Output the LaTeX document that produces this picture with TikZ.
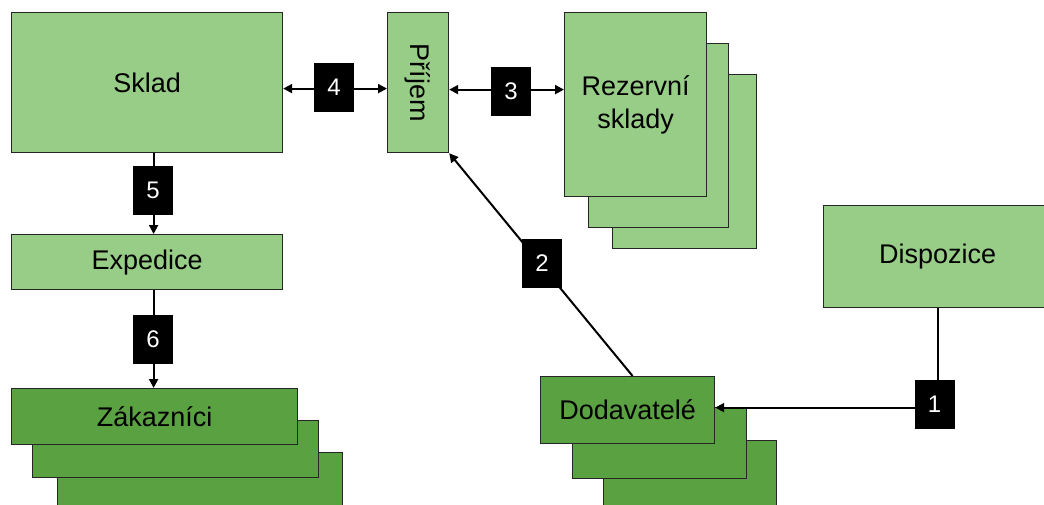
\documentclass[tikz,border=0pt]{standalone}
\usepackage{fontspec}
\setmainfont{Liberation Sans}
\usetikzlibrary{arrows.meta}
\definecolor{lg}{HTML}{98CD87}
\definecolor{dg}{HTML}{5AA142}
\begin{document}
\begin{tikzpicture}[x=1pt,y=-1pt,
  box/.style={draw=black!85, line width=1.2pt, fill=lg, anchor=north west, inner sep=0pt,
              font=\fontsize{27}{33}\selectfont, align=center},
  dbox/.style={box, fill=dg},
  lbl/.style={fill=black, text=white, minimum width=40pt, minimum height=49pt, inner sep=0pt,
              font=\fontsize{24}{28}\selectfont},
  conn/.style={line width=2pt, draw=black},
  tipend/.style={-{Triangle[length=9pt,width=9pt]}},
  tipboth/.style={{Triangle[length=9pt,width=9pt]}-{Triangle[length=9pt,width=9pt]}}
]
\useasboundingbox (0,0) rectangle (1044,504);
\clip (0,0) rectangle (1044,504);

% boxes
\node[box, minimum width=271pt, minimum height=140pt] (sklad) at (11,12) {Sklad};
\node[box, minimum width=61pt, minimum height=140pt] (prijem) at (387,12) {};
\node[rotate=-90, font=\fontsize{27}{33}\selectfont, inner sep=0pt] (prijemtxt) at (prijem.center) {Příjem};

\node[box, minimum width=144pt, minimum height=174pt] (rez3) at (612,74) {};
\node[box, minimum width=140pt, minimum height=184pt] (rez2) at (588,43) {};
\node[box, minimum width=142pt, minimum height=184pt] (rez1) at (564,12) {Rezervní\\sklady};

\node[box, minimum width=228pt, minimum height=102pt] (disp) at (823,205) {Dispozice};
\node[box, minimum width=271pt, minimum height=55pt] (exp) at (11,234) {Expedice};

\node[dbox, minimum width=285pt, minimum height=62pt] (zak3) at (57,452) {};
\node[dbox, minimum width=286pt, minimum height=57pt] (zak2) at (32,420) {};
\node[dbox, minimum width=286pt, minimum height=56pt] (zak1) at (11,388) {Zákazníci};

\node[dbox, minimum width=173pt, minimum height=72pt] (dod3) at (603,440) {};
\node[dbox, minimum width=174pt, minimum height=71pt] (dod2) at (572,407) {};
\node[dbox, minimum width=174pt, minimum height=67pt] (dod1) at (540,376) {Dodavatelé};

% connectors
\draw[conn, tipboth] ([yshift=-6pt]sklad.east) -- ([yshift=-6pt]prijem.west);
\coordinate (a3) at ([yshift=-7pt]prijem.east);
\draw[conn, tipboth] (a3) -- (a3 -| rez1.west);
\coordinate (a5) at ([xshift=6.5pt]sklad.south);
\draw[conn, tipend] (a5) -- (a5 |- exp.north);
\coordinate (a6) at ([xshift=6.5pt]exp.south);
\draw[conn, tipend] (a6) -- (a6 |- zak1.north);
\coordinate (a1) at ([yshift=2.5pt]dod1.east);
\draw[conn, tipend] (disp.south) |- (a1);
\draw[conn, tipend] ([xshift=5pt]dod1.north) -- (prijem.south east);

% labels
\node[lbl] (l4) at (334,87.5) {4};
\node[lbl] (l3) at (511,91.5) {3};
\node[lbl] (l5) at (153,190.5) {5};
\node[lbl] (l6) at (153,339.5) {6};
\node[lbl] (l2) at (542,263) {2};
\node[lbl] (l1) at (934.5,404.5) {1};
\end{tikzpicture}
\end{document}
